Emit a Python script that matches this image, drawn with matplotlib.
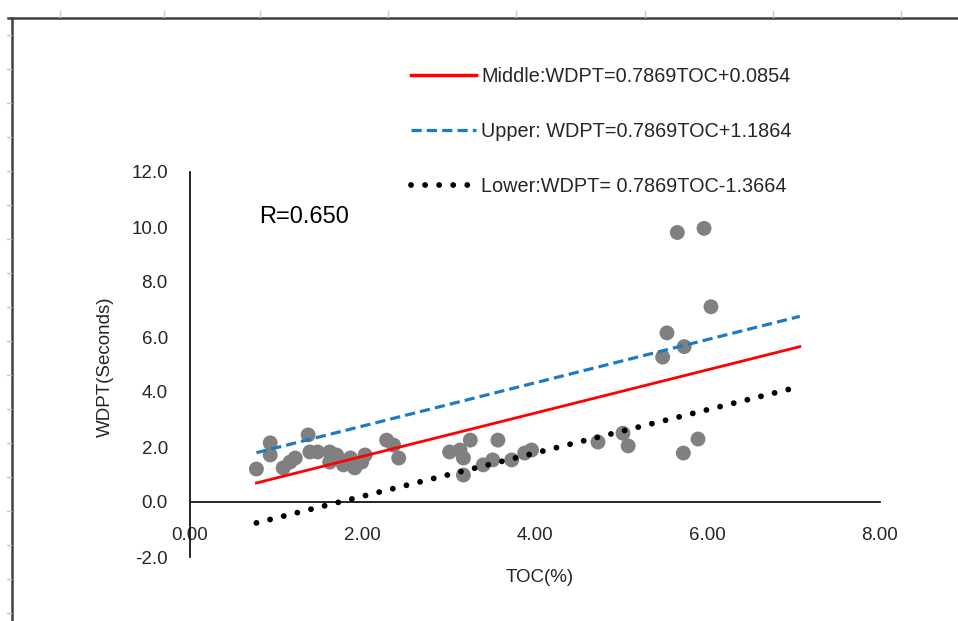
import numpy as np
import matplotlib
matplotlib.use("Agg")
import matplotlib.pyplot as plt
from matplotlib.lines import Line2D

plt.rcParams["font.family"] = ["Liberation Sans", "DejaVu Sans"]

# TOC (%) and WDPT (seconds) samples
toc = [0.77, 0.93, 0.93, 1.08, 1.16, 1.22, 1.37, 1.39, 1.48, 1.62, 1.62, 1.70,
       1.78, 1.86, 1.91, 1.99, 2.03, 2.28, 2.36, 2.42, 3.01, 3.13, 3.17, 3.17,
       3.25, 3.40, 3.51, 3.57, 3.73, 3.88, 3.96, 4.73, 5.02, 5.08, 5.48, 5.53,
       5.65, 5.73, 5.72, 5.89, 5.96, 6.04]
wdpt = [1.20, 2.15, 1.71, 1.24, 1.45, 1.60, 2.44, 1.82, 1.82, 1.82, 1.45, 1.71,
        1.35, 1.60, 1.24, 1.45, 1.71, 2.25, 2.07, 1.60, 1.82, 1.89, 1.60, 0.98,
        2.25, 1.35, 1.53, 2.25, 1.53, 1.78, 1.89, 2.18, 2.50, 2.04, 5.27, 6.15,
        9.80, 5.65, 1.78, 2.29, 9.95, 7.10]

slope = 0.7869
intercepts = {"middle": 0.0854, "upper": 1.1864, "lower": -1.3664}
line_x = [0.77, 7.07]

labels = {
    "middle": "Middle:WDPT=0.7869TOC+0.0854",
    "upper": "Upper: WDPT=0.7869TOC+1.1864",
    "lower": "Lower:WDPT= 0.7869TOC-1.3664",
}

W, H = 958, 621
fig = plt.figure(figsize=(W / 100, H / 100), dpi=100)

# plot area: x 0..8 -> px 190..880, y -2..12 -> px 557..172
ax = fig.add_axes([190 / W, 1 - 557 / H, 690 / W, 385 / H])
ax.set_xlim(0, 8)
ax.set_ylim(-2, 12)

ax.scatter(toc, wdpt, s=115, color="#808080", edgecolors="none", zorder=2)

dash_blue = (0, (3.2, 1.6))
dot_black = (0, (0.01, 2.4))

xs = np.array(line_x)
ax.plot(xs, slope * xs + intercepts["middle"], color="#ff0000", lw=2.0, zorder=3)
ax.plot(xs, slope * xs + intercepts["upper"], color="#1a7cc9", lw=2.3,
        linestyle=dash_blue, zorder=3)
ax.plot(xs, slope * xs + intercepts["lower"], color="black", lw=4.2,
        linestyle=dot_black, dash_capstyle="round", zorder=3)

# axes cross at the origin
for s in ["top", "right"]:
    ax.spines[s].set_visible(False)
ax.spines["left"].set_position(("data", 0))
ax.spines["bottom"].set_position(("data", 0))
for s in ["left", "bottom"]:
    ax.spines[s].set_color("black")
    ax.spines[s].set_linewidth(1.2)

ax.set_xticks([0, 2, 4, 6, 8])
ax.set_xticklabels(["0.00", "2.00", "4.00", "6.00", "8.00"])
ax.set_yticks(np.arange(-2, 13, 2))
ax.set_yticklabels([f"{v:.1f}" for v in np.arange(-2, 13, 2)])
ax.tick_params(length=0, labelsize=13.5, colors="#262626")
ax.tick_params(axis="y", pad=16)
ax.tick_params(axis="x", pad=18)

fig.text(105 / W, 1 - 367 / H, "WDPT(Seconds)", rotation=90, ha="center",
         va="center", fontsize=13.5, color="#262626")
fig.text(540 / W, 1 - 578 / H, "TOC(%)", ha="center", va="center",
         fontsize=13.5, color="#262626")
fig.text(259 / W, 1 - 217 / H, "R=0.650", ha="left", va="center",
         fontsize=17, color="black")

# equation legend
handles = [
    Line2D([0], [0], color="#ff0000", lw=2.5),
    Line2D([0], [0], color="#1a7cc9", lw=2.3, linestyle=dash_blue),
    Line2D([0], [0], color="black", lw=4.2, linestyle=dot_black,
           dash_capstyle="round"),
]
fig.legend(handles, [labels["middle"], labels["upper"], labels["lower"]],
           loc="upper left", bbox_to_anchor=(393 / W, 1 - 49 / H),
           frameon=False, fontsize=14.3, handlelength=3.3, handletextpad=0.25,
           labelspacing=1.82, labelcolor="#262626")

# sheet frame with row/column marks
frame_c = "#404040"
fig.add_artist(Line2D([8 / W, 1], [1 - 18 / H, 1 - 18 / H], color=frame_c, lw=1.8,
                      transform=fig.transFigure))
fig.add_artist(Line2D([12 / W, 12 / W], [1 - 18 / H, 0], color=frame_c, lw=1.8,
                      transform=fig.transFigure))
for cx in [60, 164, 260, 388, 516, 645, 773, 901]:
    fig.add_artist(Line2D([cx / W, cx / W], [1 - 11 / H, 1 - 17 / H],
                          color="#c8c8c8", lw=1, transform=fig.transFigure))
for ry in range(35, 621, 34):
    fig.add_artist(Line2D([7 / W, 11 / W], [1 - ry / H, 1 - ry / H],
                          color="#c8c8c8", lw=1, transform=fig.transFigure))

fig.savefig("out.png", dpi=100)
